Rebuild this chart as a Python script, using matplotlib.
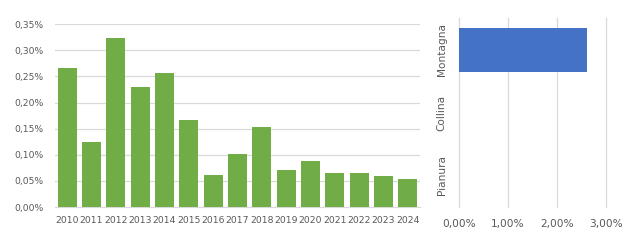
import matplotlib
matplotlib.use("Agg")
import matplotlib.pyplot as plt
from matplotlib.ticker import FuncFormatter, MultipleLocator

years = ["2010", "2011", "2012", "2013", "2014", "2015", "2016", "2017",
         "2018", "2019", "2020", "2021", "2022", "2023", "2024"]
rates = [0.266, 0.124, 0.324, 0.230, 0.257, 0.166, 0.061, 0.101,
         0.153, 0.070, 0.088, 0.065, 0.065, 0.059, 0.053]  # percent

zones = ["Pianura", "Collina", "Montagna"]
zone_rates = [0.0, 0.0, 2.61]  # percent

W, H = 630, 240
fig = plt.figure(figsize=(W / 100, H / 100), dpi=100)
plt.rcParams["font.family"] = ["DejaVu Sans"]
txt = "#595959"
grid = "#d9d9d9"
fs = 6.7
fs2 = 7.6

def pct_fmt(v, _):
    return f"{v:.2f}%".replace(".", ",")

# Left chart
l, r, b, t = 55, 420, 207, 24.3
ax1 = fig.add_axes([l / W, 1 - b / H, (r - l) / W, (b - t) / H])
x = range(len(years))
ax1.bar(x, rates, width=0.78, color="#70ad47", zorder=3)
ax1.set_xlim(-0.5, len(years) - 0.5)
ax1.set_ylim(0, 0.35)
ax1.yaxis.set_major_locator(MultipleLocator(0.05))
ax1.yaxis.set_major_formatter(FuncFormatter(pct_fmt))
ax1.set_xticks(list(x))
ax1.set_xticklabels(years)
ax1.grid(axis="y", color=grid, linewidth=0.9, zorder=0)
for s in ["top", "right", "left"]:
    ax1.spines[s].set_visible(False)
ax1.spines["bottom"].set_color(grid)
ax1.tick_params(axis="both", length=0, labelsize=fs, colors=txt)
ax1.tick_params(axis="x", pad=6.5)
ax1.tick_params(axis="y", pad=8.4)

# Right chart
l2, r2, b2, t2 = 459.3, 605.7, 206.7, 18.3
ax2 = fig.add_axes([l2 / W, 1 - b2 / H, (r2 - l2) / W, (b2 - t2) / H])
ax2.barh(range(len(zones)), zone_rates, height=0.70, color="#4472c4", zorder=3)
ax2.set_ylim(-0.5, len(zones) - 0.5)
ax2.set_xlim(0, 3.0)
ax2.xaxis.set_major_locator(MultipleLocator(1.0))
ax2.xaxis.set_major_formatter(FuncFormatter(pct_fmt))
ax2.set_yticks(range(len(zones)))
ax2.set_yticklabels(zones, rotation=90, va="center")
ax2.grid(axis="x", color=grid, linewidth=0.9, zorder=0, clip_on=False)
for line in ax2.get_xgridlines():
    line.set_clip_on(False)
for s in ["top", "right", "left", "bottom"]:
    ax2.spines[s].set_visible(False)
ax2.tick_params(axis="both", length=0, labelsize=fs2, colors=txt)
ax2.tick_params(axis="x", pad=8.5)
ax2.tick_params(axis="y", pad=9)

fig.savefig("out.png", dpi=100)
